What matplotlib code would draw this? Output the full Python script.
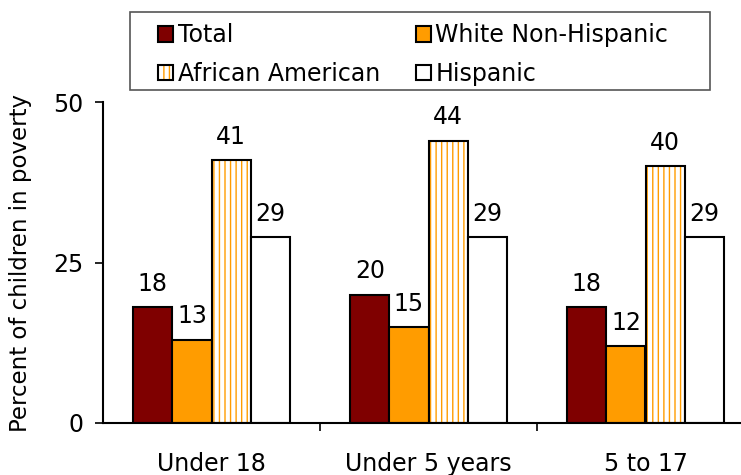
import matplotlib.pyplot as plt
from matplotlib.patches import Patch, Rectangle
import numpy as np

categories = ['Under 18', 'Under 5 years', '5 to 17']
series = ['Total', 'White Non-Hispanic', 'African American', 'Hispanic']
total = [18, 20, 18]
white = [13, 15, 12]
african = [41, 44, 40]
hispanic = [29, 29, 29]

plt.rcParams['font.family'] = ['DejaVu Sans']
FS = 17

fig = plt.figure(figsize=(7.41, 4.75), dpi=100)
ax = fig.add_axes([103 / 741, 52 / 475, 1 - 103 / 741, 321 / 475])

x = np.arange(len(categories))
w = 0.18
values = [total, white, african, hispanic]
offsets = [-1.5 * w, -0.5 * w, 0.5 * w, 1.5 * w]
colors = ['#7f0000', '#ff9c00', 'white', 'white']

for i, vals in enumerate(values):
    pos = x + offsets[i]
    if series[i] == 'African American':
        ax.bar(pos, vals, w, color='white', edgecolor='#ff9c00',
               hatch='|||', linewidth=0)
        ax.bar(pos, vals, w, fill=False, edgecolor='black', linewidth=1.5)
    else:
        ax.bar(pos, vals, w, color=colors[i], edgecolor='black', linewidth=1.5)
    for p, v in zip(pos, vals):
        ax.annotate(str(v), (p, v), xytext=(0, 8), textcoords='offset points',
                    ha='center', va='bottom', fontsize=FS)

ax.set_ylim(0, 50)
ax.set_xlim(-0.5, -0.5 + 638 / 217)
ax.set_yticks([0, 25, 50])
ax.tick_params(axis='y', labelsize=FS, length=6, width=1.2, pad=8,
               direction='out')
ax.set_xticks(x)
ax.set_xticklabels(categories, fontsize=FS)
ax.tick_params(axis='x', which='major', length=0, pad=21)
ax.set_xticks([0.5, 1.5], minor=True)
ax.tick_params(axis='x', which='minor', length=6, width=1.2, direction='out')
ax.set_ylabel('Percent of children in poverty', fontsize=16.5)
ax.yaxis.set_label_coords(-71 / 638, 0.5)
for s in ['top', 'right']:
    ax.spines[s].set_visible(False)
for s in ['left', 'bottom']:
    ax.spines[s].set_linewidth(1.5)

# legend box drawn separately so the entries can sit where the original has them
fig.patches.append(Rectangle((130 / 741, 1 - 90 / 475), 580 / 741, 78 / 475,
                             transform=fig.transFigure, fill=False,
                             edgecolor='#555555', linewidth=1.2))

h_total = Patch(facecolor='#7f0000', edgecolor='black', linewidth=1.5)
h_white = Patch(facecolor='#ff9c00', edgecolor='black', linewidth=1.5)
h_afr = (Patch(facecolor='white', edgecolor='#ff9c00', hatch='|||', linewidth=0),
         Patch(fill=False, edgecolor='black', linewidth=1.5))
h_hisp = Patch(facecolor='white', edgecolor='black', linewidth=1.5)
leg = fig.legend([h_total, h_afr, h_white, h_hisp],
                 [series[0], series[2], series[1], series[3]],
                 ncol=2, loc='upper left',
                 bbox_to_anchor=(158 / 741, 1 - 23 / 475),
                 fontsize=FS, frameon=False,
                 handlelength=0.64, handleheight=0.64, handletextpad=0.2,
                 columnspacing=1.5, borderpad=0, labelspacing=0.62,
                 borderaxespad=0)

fig.savefig('out.png', dpi=100)
